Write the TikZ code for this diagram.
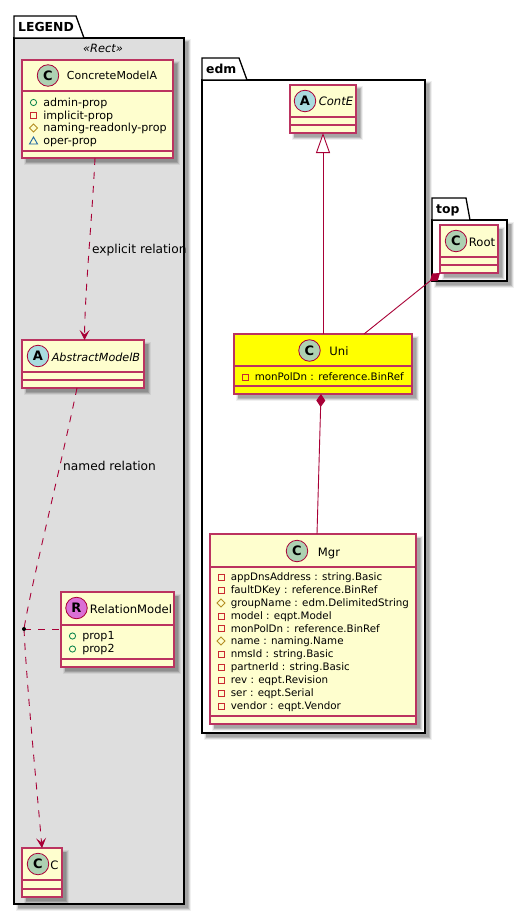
\documentclass[tikz,border=0pt]{standalone}
\usepackage{fontspec}
\setmainfont{DejaVu Sans}
\usetikzlibrary{arrows.meta,calc}
\pgfdeclarelayer{front}
\pgfsetlayers{main,front}
\definecolor{umlred}{HTML}{A80036}
\definecolor{umlline}{HTML}{BB3360}
\definecolor{umlfill}{HTML}{FEFECE}
\definecolor{umlyellow}{rgb}{1,1,0}
\definecolor{circC}{HTML}{ADD1B2}
\definecolor{circA}{HTML}{A9DCDF}
\definecolor{circR}{HTML}{DA70D6}
\definecolor{pubc}{HTML}{038048}
\definecolor{privc}{HTML}{C82930}
\definecolor{protc}{HTML}{B38D22}
\definecolor{pkgc}{HTML}{1963A0}
\newcounter{autoname}
\tikzset{
  x=1pt,y=-1pt,
  boxst/.style={draw=umlline,line width=1.25pt,rectangle,inner sep=0pt,outer sep=0pt},
  circst/.style={circle,draw=umlred,line width=0.8pt,minimum size=21.5pt,inner sep=0pt,font=\fontsize{13}{13}\selectfont\bfseries},
  cname/.style={inner sep=0pt,anchor=base,font=\fontsize{11.6}{14}\selectfont},
  attrst/.style={inner sep=0pt,anchor=base west,font=\fontsize{10.3}{12}\selectfont},
  lblst/.style={inner sep=0pt,anchor=base west,font=\fontsize{12.2}{14}\selectfont},
  pkgtitle/.style={inner sep=0pt,anchor=base west,font=\fontsize{12.4}{14}\selectfont\bfseries},
  pkgst/.style={draw=black,line width=1.3pt,line join=miter},
  conn/.style={draw=umlred,line width=0.9pt},
  dashconn/.style={conn,dash pattern=on 7pt off 7pt},
  openhead/.style={-{Stealth[length=10pt,width=10pt,inset=4.5pt,umlred]}}
}
\newcommand{\softshadow}[4]{%
  \fill[black,opacity=.06] (#1+1.5,#2+1.5) rectangle (#3+6.5,#4+6.5);
  \fill[black,opacity=.10] (#1+2.5,#2+2.5) rectangle (#3+5.6,#4+5.6);
  \fill[black,opacity=.14] (#1+3.5,#2+3.5) rectangle (#3+4.6,#4+4.6);
  \fill[black,opacity=.10] (#1+4,#2+4) rectangle (#3+3.6,#4+3.6);
}
\newcommand{\classbox}[8]{%
  \softshadow{#2}{#3}{#4}{#5}
  \node[boxst,fill=#8,minimum width=#4-#2,minimum height=#5-#3] (#1) at ({(#2+#4)/2},{(#3+#5)/2}) {};
  \draw[umlline,line width=1.25pt] (#2,#6) -- (#4,#6) (#2,#7) -- (#4,#7);
}
\newcommand{\classmark}[4]{%
  \stepcounter{autoname}
  \node[circst,fill=#3] (m\theautoname) at (#1,#2) {#4};
}
\newcommand{\txt}[4]{%
  \stepcounter{autoname}
  \node[#1] (t\theautoname) at (#2,#3) {#4};
}
\newcommand{\attrtext}[3]{\txt{attrst}{#1}{#2+3.8}{#3}}
\newcommand{\pubm}[3]{\draw[pubc,line width=.8pt] (#1,#2) circle (3.1pt); \attrtext{#1+9.6}{#2}{#3}}
\newcommand{\privm}[3]{\draw[privc,line width=.9pt] (#1-3,#2-3) rectangle (#1+3,#2+3); \attrtext{#1+9.6}{#2}{#3}}
\newcommand{\protm}[3]{\draw[protc,line width=.8pt] (#1-4,#2) -- (#1,#2-4) -- (#1+4,#2) -- (#1,#2+4) -- cycle; \attrtext{#1+9.6}{#2}{#3}}
\newcommand{\pkgm}[3]{\draw[pkgc,line width=.9pt] (#1-4,#2+3) -- (#1,#2-4) -- (#1+4,#2+3) -- cycle; \attrtext{#1+9.6}{#2}{#3}}
\newcommand{\wide}{\fontsize{11.1}{12}\selectfont}
\newcommand{\package}[8]{%
  \softshadow{#1}{#3}{#4}{#5}
  \path[fill=#8,pkgst] (#1,#3) rectangle (#4,#5);
  \path[fill=white,pkgst] (#1,#3) -- (#1,#2) -- (#6,#2) -- (#7,#3) -- cycle;
}
\begin{document}
\begin{tikzpicture}
\useasboundingbox (0,0) rectangle (527,915);
\fill[white] (0,0) rectangle (527,915);

% packages
\package{14}{16}{38}{184}{904}{76}{84}{black!13}
\txt{pkgtitle}{18}{31.5}{LEGEND}
\txt{cname,font=\fontsize{11.4}{14}\selectfont\itshape}{103}{53}{«Rect»}

\package{202}{58}{80}{425}{733}{239}{247}{white}
\txt{pkgtitle}{206}{73.5}{edm}

\package{432}{198}{220}{507}{281}{466}{470}{white}
\txt{pkgtitle}{436}{213.5}{top}

% LEGEND classes
\classbox{cma}{22}{60}{173}{158}{91}{151}{umlfill}
\classmark{48}{75.5}{circC}{C}
\txt{cname,font=\fontsize{11}{14}\selectfont}{112}{80}{ConcreteModelA}
\pubm{33.5}{102.5}{\wide admin-prop}
\privm{33.5}{115.5}{\wide implicit-prop}
\protm{33.5}{128}{\wide naming-readonly-prop}
\pkgm{33.5}{141}{\wide oper-prop}

\classbox{amb}{22}{340}{144}{388}{372}{380}{umlfill}
\classmark{38}{356}{circA}{A}
\txt{cname,font=\fontsize{11.2}{14}\selectfont\itshape}{96}{361}{AbstractModelB}

\classbox{rel}{61}{592}{174}{667}{625}{659}{umlfill}
\classmark{76.5}{608}{circR}{R}
\txt{cname}{131}{613}{RelationModel}
\pubm{72.5}{636}{\wide prop1}
\pubm{72.5}{649}{\wide prop2}

\classbox{cc}{22}{848}{62}{897}{880}{889}{umlfill}
\classmark{38}{864}{circC}{C}
\txt{cname}{54.5}{869}{C}

% edm classes
\classbox{conte}{290}{85}{356}{133}{117}{125}{umlfill}
\classmark{305}{101}{circA}{A}
\txt{cname,font=\fontsize{11.6}{14}\selectfont\itshape}{336}{106}{ContE}

\classbox{uni}{234}{334}{412}{394}{366}{386}{umlyellow}
\classmark{309.5}{350.5}{circC}{C}
\txt{cname}{339}{355}{Uni}
\privm{245}{377}{monPolDn : reference.BinRef}

\classbox{mgr}{210}{534}{416}{724}{567}{716}{umlfill}
\classmark{297}{551}{circC}{C}
\txt{cname}{329}{556}{Mgr}
\privm{221}{577}{appDnsAddress : string.Basic}
\privm{221}{590}{faultDKey : reference.BinRef}
\protm{221}{603}{groupName : edm.DelimitedString}
\privm{221}{616}{model : eqpt.Model}
\privm{221}{628.5}{monPolDn : reference.BinRef}
\protm{221}{641}{name : naming.Name}
\privm{221}{654}{nmsId : string.Basic}
\privm{221}{667}{partnerId : string.Basic}
\privm{221}{680}{rev : eqpt.Revision}
\privm{221}{693}{ser : eqpt.Serial}
\privm{221}{706}{vendor : eqpt.Vendor}

% top class
\classbox{root}{440}{225}{498}{273}{257}{265}{umlfill}
\classmark{456}{241}{circC}{C}
\txt{cname}{482}{246}{Root}

% connectors
\begin{pgfonlayer}{front}
\node[circle,fill=black,minimum size=4pt,inner sep=0pt] (rdot) at (24,629) {};
\end{pgfonlayer}

\draw[dashconn,openhead] ([xshift=-2.5pt]cma.south) .. controls (92,220) and (85,290) .. ([xshift=1.5pt]amb.north);
\draw[dashconn] ([xshift=-6pt]amb.south) .. controls (60,470) and (30,590) .. (rdot.center);
\draw[dashconn,openhead] (rdot.center) .. controls (27,690) and (37,790) .. (cc.north);
\draw[dashconn] (rdot.center) -- (rel.west |- rdot);

\draw[conn,-{Triangle[length=20pt,width=14pt,fill=white,umlred]}] (uni.north -| conte.south) -- (conte.south);
\draw[conn,{Diamond[length=13pt,width=9pt,umlred]}-] ([xshift=-2pt]uni.south) -- ([xshift=4pt]mgr.north);
\draw[conn,{Diamond[length=13pt,width=9pt,umlred]}-] (root.south west) -- ([xshift=41pt]uni.north);

% connector labels
\txt{lblst}{92}{253.5}{explicit relation}
\txt{lblst}{63}{470.5}{named relation}
\end{tikzpicture}
\end{document}
